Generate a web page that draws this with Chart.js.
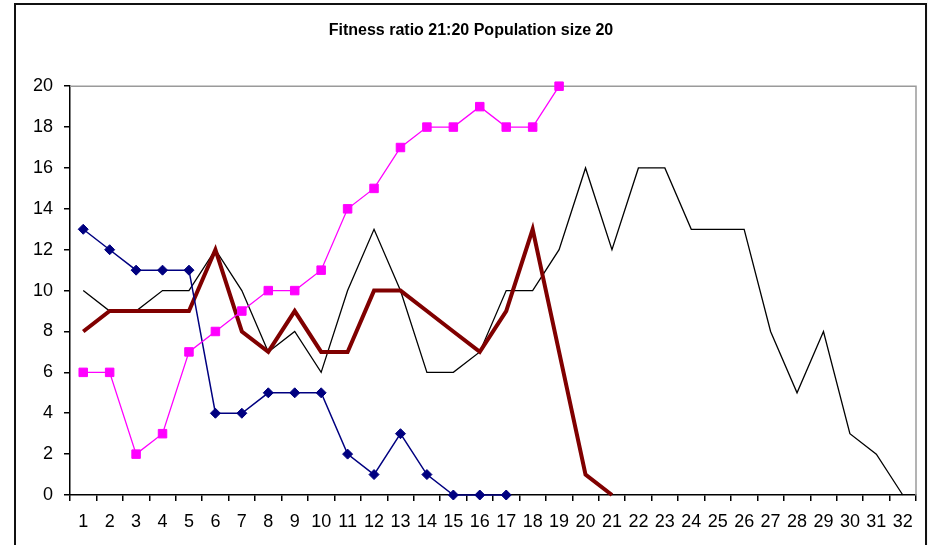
<!DOCTYPE html>
<html>
<head>
<meta charset="utf-8">
<script src="https://cdn.jsdelivr.net/npm/chart.js@4/dist/chart.umd.min.js"></script>
<style>
  html, body { margin: 0; padding: 0; background: #fff; }
  #wrap { width: 928px; height: 545px; position: relative; }
</style>
</head>
<body>
<div id="wrap"><canvas id="chart" width="928" height="545"></canvas></div>
<script>
// Generations on the category axis
const generations = ['1','2','3','4','5','6','7','8','9','10','11','12','13','14','15','16',
                     '17','18','19','20','21','22','23','24','25','26','27','28','29','30','31','32'];

// Individual runs (count of the fitter type in the population)
const runPink  = [6, 6, 2, 3, 7, 8, 9, 10, 10, 11, 14, 15, 17, 18, 18, 19, 18, 18, 20];
const runBlue  = [13, 12, 11, 11, 11, 4, 4, 5, 5, 5, 2, 1, 3, 1, 0, 0, 0];
const runBlack = [10, 9, 9, 10, 10, 12, 10, 7, 8, 6, 10, 13, 10, 6, 6, 7, 10, 10, 12, 16,
                  12, 16, 16, 13, 13, 13, 8, 5, 8, 3, 2, 0];
const runRed   = [8, 9, 9, 9, 9, 12, 8, 7, 9, 7, 7, 10, 10, 9, 8, 7, 9, 13, 7, 1, 0];

// Value axis tick labels
const yTicks = [0, 2, 4, 6, 8, 10, 12, 14, 16, 18, 20];

const chartTitle = 'Fitness ratio 21:20 Population size 20';
const FONT = "'Liberation Sans', Arial, sans-serif";

// Outer frame of the chart object and the grey plot-area edge (top and right)
const framePlugin = {
  id: 'frame',
  beforeDraw(chart) {
    const ctx = chart.ctx;
    ctx.save();
    ctx.fillStyle = '#ffffff';
    ctx.fillRect(0, 0, chart.width, chart.height);
    ctx.fillStyle = '#f6f6f6';
    ctx.fillRect(927, 0, chart.width - 927, chart.height);
    ctx.strokeStyle = '#111';
    ctx.lineWidth = 2;
    ctx.beginPath();
    ctx.moveTo(15, chart.height);
    ctx.lineTo(15, 4);
    ctx.lineTo(926, 4);
    ctx.lineTo(926, chart.height);
    ctx.stroke();
    ctx.restore();
  },
  beforeDatasetsDraw(chart) {
    const { ctx, chartArea: a } = chart;
    ctx.save();
    ctx.strokeStyle = '#9a9a9a';
    ctx.lineWidth = 1.5;
    ctx.beginPath();
    ctx.moveTo(a.left, a.top);
    ctx.lineTo(a.right, a.top);
    ctx.lineTo(a.right, a.bottom);
    ctx.stroke();
    ctx.restore();
  }
};

new Chart(document.getElementById('chart'), {
  type: 'line',
  data: {
    labels: generations,
    datasets: [
      {
        data: runPink,
        borderColor: '#ff00ff',
        backgroundColor: '#ff00ff',
        borderWidth: 1.3,
        pointStyle: 'rect',
        pointRadius: 6,
        pointBorderWidth: 1,
        clip: false
      },
      {
        data: runBlue,
        borderColor: '#000080',
        backgroundColor: '#000080',
        borderWidth: 1.5,
        pointStyle: 'rectRot',
        pointRadius: 5,
        pointBorderWidth: 1,
        clip: false
      },
      {
        data: runRed,
        borderColor: '#800000',
        borderWidth: 4,
        pointRadius: 0,
        clip: false
      },
      {
        data: runBlack,
        borderColor: '#000000',
        borderWidth: 1.3,
        pointRadius: 0,
        clip: false
      }
    ]
  },
  options: {
    responsive: false,
    animation: false,
    devicePixelRatio: 1,
    layout: { padding: { left: 26, right: 12, top: 4, bottom: 0 } },
    elements: { line: { tension: 0, fill: false } },
    plugins: {
      legend: { display: false },
      tooltip: { enabled: false },
      title: {
        display: true,
        text: chartTitle,
        color: '#000',
        font: { family: FONT, size: 16, weight: 'bold' },
        lineHeight: 1.2,
        padding: { top: 17, bottom: 46 }
      }
    },
    scales: {
      x: {
        type: 'category',
        offset: true,
        afterFit(s) { s.height = 50; },
        ticks: {
          color: '#000',
          font: { family: FONT, size: 18 },
          padding: 10,
          maxRotation: 0,
          autoSkip: false
        },
        grid: { offset: true, drawOnChartArea: false, tickLength: 6, color: '#000', lineWidth: 1.5 },
        border: { color: '#000', width: 1.5 }
      },
      y: {
        min: 0,
        max: 20,
        afterFit(s) { s.width = 44; },
        afterBuildTicks(s) { s.ticks = yTicks.map(v => ({ value: v })); },
        ticks: {
          color: '#000',
          font: { family: FONT, size: 18 },
          padding: 11
        },
        grid: { drawOnChartArea: false, tickLength: 6, color: '#000', lineWidth: 1.5 },
        border: { color: '#000', width: 1.5 }
      }
    }
  },
  plugins: [framePlugin]
});
</script>
</body>
</html>
